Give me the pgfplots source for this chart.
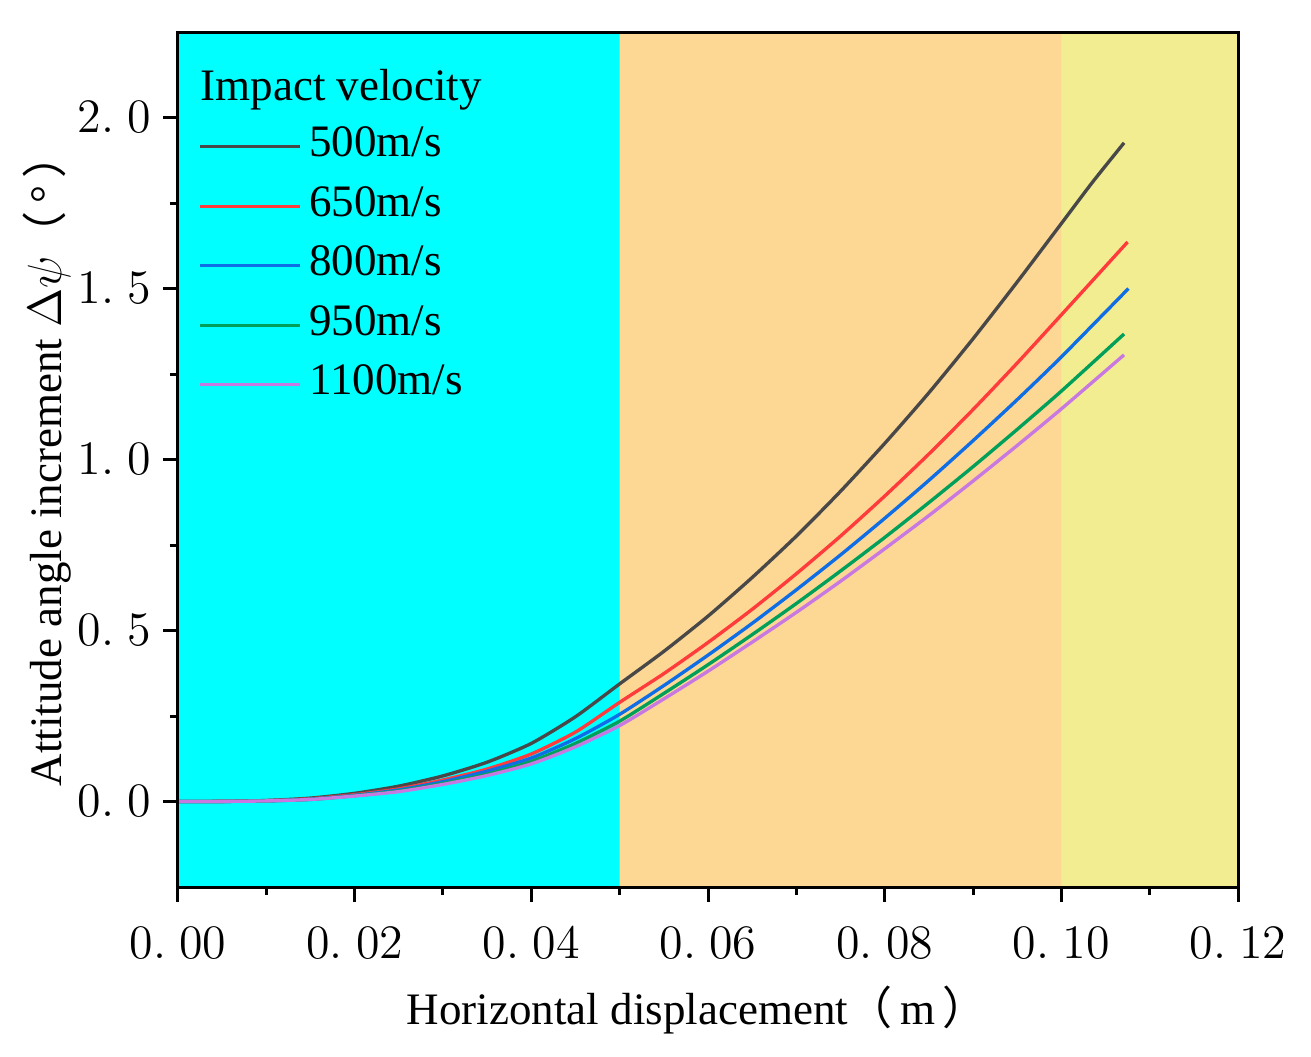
\documentclass[border=0pt]{standalone}
\usepackage{fontspec}
\setmainfont{Liberation Serif}
\newfontfamily\cjk{Noto Sans CJK SC}
\usepackage{pgfplots}
\pgfplotsset{compat=1.18}

\definecolor{bgcyan}{RGB}{0,255,255}
\definecolor{bgorange}{RGB}{253,215,148}
\definecolor{bgyellow}{RGB}{243,237,145}
\definecolor{c500}{RGB}{72,72,72}
\definecolor{c650}{RGB}{255,59,59}
\definecolor{c800}{RGB}{15,110,230}
\definecolor{c950}{RGB}{0,160,90}
\definecolor{c1100}{RGB}{200,120,225}

\begin{document}
\begin{tikzpicture}
% page frame, 0.3pt per reference pixel
\path (-53.4pt,-50.7pt) rectangle (339.9pt,266.1pt);
\begin{axis}[
  width=318pt, height=256.5pt, scale only axis,
  at={(0,0)}, anchor=south west,
  xmin=0, xmax=0.12, ymin=-0.25, ymax=2.25,
  axis on top,
  axis line style={line width=0.9pt},
  every tick/.style={line width=0.9pt, black},
  tick align=outside,
  major tick length=4.5pt, minor tick length=2.4pt,
  xtick pos=left, ytick pos=left,
  xtick={0,0.02,0.04,0.06,0.08,0.1,0.12},
  xticklabels={$0.\;00$,$0.\;02$,$0.\;04$,$0.\;06$,$0.\;08$,$0.\;10$,$0.\;12$},
  ytick={0,0.5,1,1.5,2},
  yticklabels={$0.\;0$,$0.\;5$,$1.\;0$,$1.\;5$,$2.\;0$},
  minor x tick num=1, minor y tick num=1,
  xticklabel style={font=\fontsize{14}{16}\selectfont, yshift=-4pt},
  yticklabel style={font=\fontsize{14}{16}\selectfont},
  xlabel={Horizontal displacement{\cjk （}\,m\,{\cjk ）}},
  ylabel={Attitude angle increment $\Delta\psi${\cjk （}\,°\,{\cjk ）}},
  label style={font=\fontsize{13.5}{15}\selectfont},
  xlabel style={at={(axis description cs:0.49,-0.1439)}, anchor=center},
  ylabel style={at={(axis description cs:-0.1236,0.5)}, anchor=center, rotate=0},
  legend style={at={(axis description cs:0.0189,0.890)}, anchor=north west,
    draw=none, fill=none, inner sep=0pt, row sep=5.85pt,
    font=\fontsize{13.5}{15}\selectfont,
    nodes={inner sep=0pt, text height=9pt, text depth=3pt}},
  legend cell align=left,
  legend image code/.code={\draw[#1] (0pt,0pt) -- (30pt,0pt); \path (32.2pt,0pt);},
  every axis plot post/.append style={line width=1pt, smooth, tension=0.4},
]
% shaded stages
\addplot[draw=none, fill=bgcyan, forget plot, sharp plot] coordinates {(0,-0.25) (0.05,-0.25) (0.05,2.25) (0,2.25)} -- cycle;
\addplot[draw=none, fill=bgorange, forget plot, sharp plot] coordinates {(0.05,-0.25) (0.1,-0.25) (0.1,2.25) (0.05,2.25)} -- cycle;
\addplot[draw=none, fill=bgyellow, forget plot, sharp plot] coordinates {(0.1,-0.25) (0.12,-0.25) (0.12,2.25) (0.1,2.25)} -- cycle;

\addplot[c500] coordinates {
 (0,0) (0.005,0.0005) (0.01,0.003) (0.015,0.010) (0.02,0.024) (0.025,0.045)
 (0.03,0.075) (0.035,0.115) (0.04,0.17) (0.045,0.248) (0.05,0.344) (0.055,0.439)
 (0.06,0.542) (0.065,0.655) (0.07,0.776) (0.075,0.907) (0.08,1.047) (0.085,1.195)
 (0.09,1.353) (0.095,1.519) (0.1,1.69) (0.1035,1.81) (0.1071,1.926)};
\addlegendentry{500m/s}
\addplot[c650] coordinates {
 (0,0) (0.005,0.0004) (0.01,0.0025) (0.015,0.008) (0.02,0.02) (0.025,0.037)
 (0.03,0.063) (0.035,0.095) (0.04,0.139) (0.045,0.203) (0.05,0.29) (0.055,0.374)
 (0.06,0.465) (0.065,0.562) (0.07,0.666) (0.075,0.776) (0.08,0.893) (0.085,1.016)
 (0.09,1.146) (0.095,1.282) (0.1,1.423) (0.1075,1.636)};
\addlegendentry{650m/s}
\addplot[c800] coordinates {
 (0,0) (0.005,0.0003) (0.01,0.002) (0.015,0.007) (0.02,0.018) (0.025,0.034)
 (0.03,0.058) (0.035,0.089) (0.04,0.127) (0.045,0.184) (0.05,0.255) (0.055,0.339)
 (0.06,0.428) (0.065,0.521) (0.07,0.619) (0.075,0.721) (0.08,0.828) (0.085,0.939)
 (0.09,1.055) (0.095,1.175) (0.1,1.30) (0.1076,1.50)};
\addlegendentry{800m/s}
\addplot[c950] coordinates {
 (0,0) (0.005,0.0003) (0.01,0.002) (0.015,0.006) (0.02,0.017) (0.025,0.031)
 (0.03,0.053) (0.035,0.08) (0.04,0.117) (0.045,0.17) (0.05,0.235) (0.055,0.316)
 (0.06,0.40) (0.065,0.488) (0.07,0.579) (0.075,0.674) (0.08,0.772) (0.085,0.874)
 (0.09,0.979) (0.095,1.088) (0.1,1.20) (0.1071,1.367)};
\addlegendentry{950m/s}
\addplot[c1100] coordinates {
 (0,0) (0.005,0.0003) (0.01,0.0018) (0.015,0.006) (0.02,0.016) (0.025,0.029)
 (0.03,0.05) (0.035,0.076) (0.04,0.11) (0.045,0.16) (0.05,0.222) (0.055,0.30)
 (0.06,0.381) (0.065,0.466) (0.07,0.553) (0.075,0.644) (0.08,0.739) (0.085,0.836)
 (0.09,0.937) (0.095,1.041) (0.1,1.148) (0.1071,1.306)};
\addlegendentry{1100m/s}

\node[anchor=base west, inner sep=0pt, font=\fontsize{13.5}{15}\selectfont]
  at (axis description cs:0.0208,0.920) {Impact velocity};
\end{axis}
\end{tikzpicture}
\end{document}
